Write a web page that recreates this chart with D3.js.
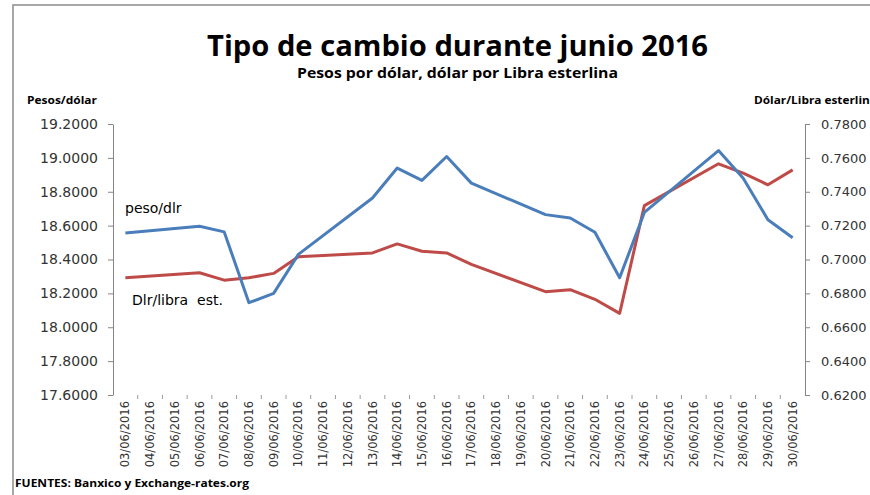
<!DOCTYPE html>
<html>
<head>
<meta charset="utf-8">
<script src="https://cdn.jsdelivr.net/npm/d3@7"></script>
<style>
  html, body { margin: 0; padding: 0; background: #fff; }
  svg { display: block; }
</style>
</head>
<body>
<svg id="chart" width="870" height="495"></svg>
<script>
// ---- Data ----
const dayLabels = ["03/06/2016","04/06/2016","05/06/2016","06/06/2016","07/06/2016","08/06/2016","09/06/2016",
  "10/06/2016","11/06/2016","12/06/2016","13/06/2016","14/06/2016","15/06/2016","16/06/2016","17/06/2016",
  "18/06/2016","19/06/2016","20/06/2016","21/06/2016","22/06/2016","23/06/2016","24/06/2016","25/06/2016",
  "26/06/2016","27/06/2016","28/06/2016","29/06/2016","30/06/2016"];
const dataDates = ["03/06/2016","06/06/2016","07/06/2016","08/06/2016","09/06/2016","10/06/2016",
  "13/06/2016","14/06/2016","15/06/2016","16/06/2016","17/06/2016",
  "20/06/2016","21/06/2016","22/06/2016","23/06/2016","24/06/2016",
  "27/06/2016","28/06/2016","29/06/2016","30/06/2016"];
const pesoDlr = [18.557,18.596,18.563,18.145,18.200,18.430,
  18.763,18.940,18.867,19.008,18.851,
  18.665,18.645,18.561,18.292,18.678,
  19.043,18.880,18.635,18.528];
const dlrLibra = [0.6892,0.6922,0.6878,0.6892,0.6918,0.7016,
  0.7039,0.7092,0.7049,0.7039,0.6971,
  0.6810,0.6822,0.6765,0.6682,0.7318,
  0.7565,0.7510,0.7441,0.7529];
const leftTicks = [17.6,17.8,18.0,18.2,18.4,18.6,18.8,19.0,19.2];
const rightTicks = [0.62,0.64,0.66,0.68,0.70,0.72,0.74,0.76,0.78];

// ---- Layout ----
const svg = d3.select("#chart");
const plot = {left: 113, right: 805, top: 124, bottom: 395};

// outer frame
svg.append("rect").attr("x", 13).attr("y", 5).attr("width", 900).attr("height", 600)
  .attr("fill", "none").attr("stroke", "#8c8c8c").attr("stroke-width", 1.5);

const x = d3.scaleBand().domain(dayLabels).range([plot.left, plot.right]).paddingInner(0).paddingOuter(0);
const cx = d => x(d) + x.bandwidth() / 2;
const yL = d3.scaleLinear().domain([17.6, 19.2]).range([plot.bottom, plot.top]);
const yR = d3.scaleLinear().domain([0.62, 0.78]).range([plot.bottom, plot.top]);

// Titles
svg.append("text").attr("x", 207).attr("y", 56)
  .attr("font-family", "'Open Sans', 'DejaVu Sans', sans-serif").attr("font-weight", 700)
  .attr("font-size", 29).attr("fill", "#000")
  .attr("textLength", 501).attr("lengthAdjust", "spacingAndGlyphs")
  .text("Tipo de cambio durante junio 2016");
svg.append("text").attr("x", 297).attr("y", 78)
  .attr("font-family", "'Open Sans', 'DejaVu Sans', sans-serif").attr("font-weight", 700)
  .attr("font-size", 14).attr("fill", "#000")
  .attr("textLength", 321).attr("lengthAdjust", "spacingAndGlyphs")
  .text("Pesos por dólar, dólar por Libra esterlina");

// axis titles
svg.append("text").attr("x", 27).attr("y", 104)
  .attr("font-family", "'Open Sans', sans-serif").attr("font-weight", 700)
  .attr("font-size", 11).attr("fill", "#000")
  .attr("textLength", 70).attr("lengthAdjust", "spacingAndGlyphs")
  .text("Pesos/dólar");
svg.append("text").attr("x", 754).attr("y", 104)
  .attr("font-family", "'Open Sans', sans-serif").attr("font-weight", 700)
  .attr("font-size", 11).attr("fill", "#000")
  .attr("textLength", 123).attr("lengthAdjust", "spacingAndGlyphs")
  .text("Dólar/Libra esterlina");

// Left axis
const axL = svg.append("g").attr("transform", `translate(${plot.left},0)`)
  .call(d3.axisLeft(yL).tickValues(leftTicks).tickFormat(d3.format(".4f")).tickSizeInner(5).tickSizeOuter(0).tickPadding(10));
axL.select(".domain").attr("stroke", "#868686");
axL.selectAll(".tick line").attr("stroke", "#868686");
axL.selectAll(".tick text").attr("font-family", "'DejaVu Sans', sans-serif").attr("font-size", 14)
  .attr("fill", "#333").attr("x", -15);

// Right axis
const axR = svg.append("g").attr("transform", `translate(${plot.right},0)`)
  .call(d3.axisRight(yR).tickValues(rightTicks).tickFormat(d3.format(".4f")).tickSizeInner(5).tickSizeOuter(0).tickPadding(12));
axR.select(".domain").attr("stroke", "#868686");
axR.selectAll(".tick line").attr("stroke", "#868686");
axR.selectAll(".tick text").attr("font-family", "'DejaVu Sans', sans-serif").attr("font-size", 13)
  .attr("fill", "#333").attr("x", 16);

// Bottom axis: ticks between day bands, rotated labels
const gx = svg.append("g");
gx.selectAll("line.tk").data(dayLabels.slice(1)).join("line").attr("class", "tk")
  .attr("x1", d => x(d)).attr("x2", d => x(d))
  .attr("y1", plot.bottom).attr("y2", plot.bottom + 4)
  .attr("stroke", "#9a9a9a").attr("stroke-width", 1);
gx.selectAll("text").data(dayLabels).join("text")
  .attr("transform", d => `translate(${cx(d)},${plot.bottom + 6}) rotate(-90)`)
  .attr("text-anchor", "end").attr("dy", "0.35em")
  .attr("font-family", "'DejaVu Sans', sans-serif").attr("font-size", 11.5).attr("fill", "#333")
  .text(d => d);

// Lines
const blueLine = d3.line().x((d, i) => cx(dataDates[i])).y(d => yL(d));
const redLine = d3.line().x((d, i) => cx(dataDates[i])).y(d => yR(d));
svg.append("path").datum(dlrLibra).attr("d", redLine)
  .attr("fill", "none").attr("stroke", "#be4b48").attr("stroke-width", 3).attr("stroke-linejoin", "round");
svg.append("path").datum(pesoDlr).attr("d", blueLine)
  .attr("fill", "none").attr("stroke", "#4a7ebb").attr("stroke-width", 3).attr("stroke-linejoin", "round");

// Series labels
svg.append("text").attr("x", 125).attr("y", 213)
  .attr("font-family", "'DejaVu Sans', sans-serif").attr("font-size", 14).attr("fill", "#000")
  .text("peso/dlr");
svg.append("text").attr("x", 132).attr("y", 305)
  .attr("font-family", "'DejaVu Sans', sans-serif").attr("font-size", 14).attr("fill", "#000")
  .attr("xml:space", "preserve").style("white-space", "pre")
  .text("Dlr/libra  est.");

// Source
svg.append("text").attr("x", 15).attr("y", 487)
  .attr("font-family", "'Open Sans', sans-serif").attr("font-weight", 700)
  .attr("font-size", 11).attr("fill", "#000")
  .attr("textLength", 234).attr("lengthAdjust", "spacingAndGlyphs")
  .text("FUENTES: Banxico y Exchange-rates.org");
</script>
</body>
</html>
